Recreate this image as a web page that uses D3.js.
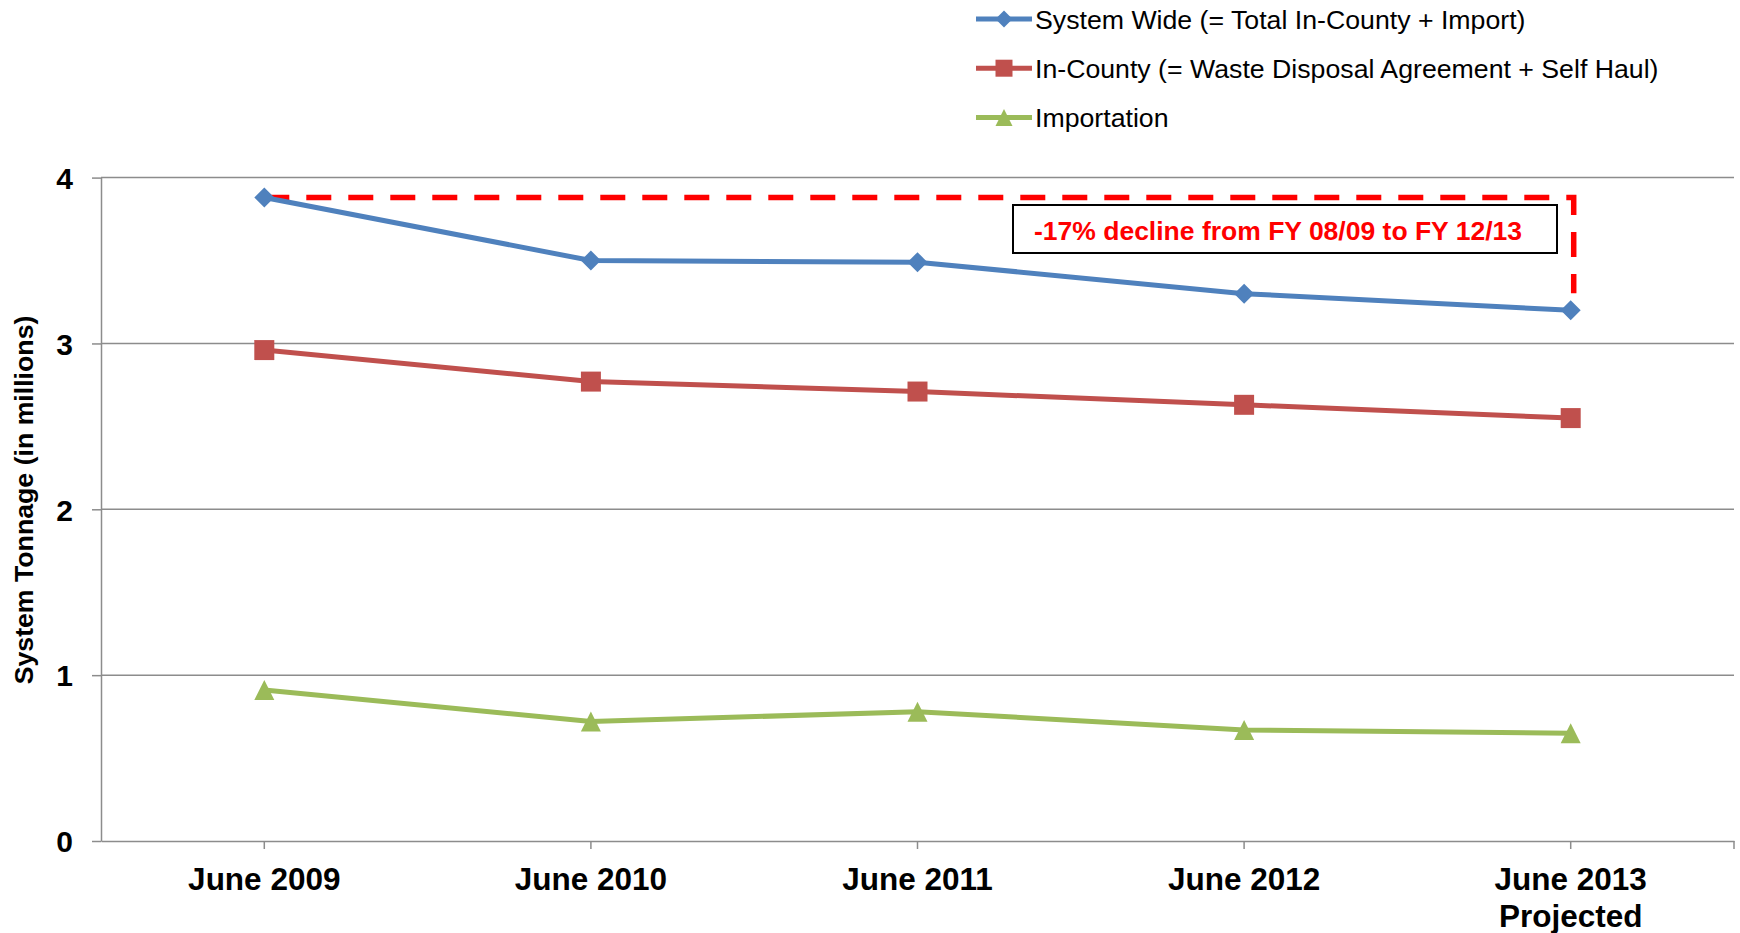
<!DOCTYPE html>
<meta charset="utf-8">
<style>
body { margin: 0; background: #fff; }
svg { display: block; font-family: "Liberation Sans", Arial, sans-serif; }
.grid line { stroke: #8c8c8c; stroke-width: 1.5px; }
.axis path, .axis line { stroke: #8c8c8c; stroke-width: 1.5px; }
.axis text { font-weight: bold; fill: #000; }
</style>
<svg width="1740" height="933"></svg>
<script src="https://cdnjs.cloudflare.com/ajax/libs/d3/7.8.5/d3.min.js"></script>
<script>

var categories = ["June 2009", "June 2010", "June 2011", "June 2012", "June 2013"];
var subLabels = ["", "", "", "", "Projected"];
var systemWide = [3.88, 3.50, 3.49, 3.30, 3.20];
var inCounty = [2.96, 2.77, 2.71, 2.63, 2.55];
var importation = [0.91, 0.72, 0.78, 0.67, 0.65];
var yTicks = [0, 1, 2, 3, 4];
var seriesNames = [
  "System Wide (= Total In-County + Import)",
  "In-County (= Waste Disposal Agreement + Self Haul)",
  "Importation"
];
var seriesColors = ["#4f81bd", "#c0504d", "#9bbb59"];
var seriesShapes = ["diamond", "square", "triangle"];
var yTitle = "System Tonnage (in millions)";
var note = "-17% decline from FY 08/09 to FY 12/13";

var svg = d3.select("svg"),
    plotLeft = 101, plotRight = 1734, plotTop = 177.6, plotBottom = 841;

var x = d3.scaleBand().domain(categories).range([plotLeft, plotRight]),
    y = d3.scaleLinear().domain([0, 4]).range([plotBottom, plotTop]);
function xc(i) { return x(categories[i]) + x.bandwidth() / 2; }

var series = [systemWide, inCounty, importation].map(function(vals, k) {
  return {name: seriesNames[k], color: seriesColors[k], shape: seriesShapes[k], values: vals};
});

function shapePath(shape, s) {
  var h = s / 2;
  if (shape === "diamond") return "M0," + (-h) + "L" + h + ",0L0," + h + "L" + (-h) + ",0Z";
  if (shape === "square") return "M" + (-h) + "," + (-h) + "h" + s + "v" + s + "h" + (-s) + "Z";
  return "M0," + (-h) + "L" + h + "," + h + "L" + (-h) + "," + h + "Z";
}

// gridlines
svg.append("g").attr("class", "grid")
  .selectAll("line").data(yTicks.filter(function(d) { return d > 0; }))
  .enter().append("line")
    .attr("x1", plotLeft).attr("x2", plotRight)
    .attr("y1", function(d) { return y(d); })
    .attr("y2", function(d) { return y(d); });

// y axis
var yAxis = svg.append("g").attr("class", "axis")
    .attr("transform", "translate(" + plotLeft + ",0)")
    .call(d3.axisLeft(y).tickValues(yTicks).tickFormat(d3.format("d"))
      .tickSize(9).tickSizeOuter(0).tickPadding(19));
yAxis.selectAll("text").style("font-size", "30px").attr("dy", "0.36em");

// x axis
var xAxis = svg.append("g").attr("class", "axis")
    .attr("transform", "translate(0," + plotBottom + ")")
    .call(d3.axisBottom(x).tickSize(8).tickSizeOuter(0).tickFormat(""));
xAxis.append("line")
    .attr("x1", plotRight).attr("x2", plotRight).attr("y1", 0).attr("y2", 8);

var xl = svg.append("g").selectAll("text").data(categories).enter().append("text")
    .attr("x", function(d, i) { return xc(i); })
    .attr("y", 890)
    .attr("text-anchor", "middle")
    .style("font-size", "31.5px").style("font-weight", "bold");
xl.append("tspan").text(function(d) { return d; });
xl.append("tspan")
    .attr("x", function(d, i) { return xc(i); })
    .attr("dy", 37)
    .text(function(d, i) { return subLabels[i]; });

// y title
svg.append("text")
    .attr("transform", "translate(33,500) rotate(-90)")
    .attr("text-anchor", "middle")
    .style("font-size", "26.7px").style("font-weight", "bold")
    .text(yTitle);

// decline bracket
var first = systemWide[0], last = systemWide[systemWide.length - 1];
svg.append("path")
    .attr("d", "M" + xc(0) + "," + y(first) + "H" + (xc(4) + 3) + "V" + (y(last) - 17))
    .attr("fill", "none")
    .attr("stroke", "#ff0000")
    .attr("stroke-width", 5.5)
    .attr("stroke-dasharray", "25,17");

svg.append("rect")
    .attr("x", 1013).attr("y", 205).attr("width", 544).attr("height", 48)
    .attr("fill", "#fff").attr("stroke", "#000").attr("stroke-width", 2);
svg.append("text")
    .attr("x", 1278).attr("y", 230).attr("dy", "0.36em")
    .attr("text-anchor", "middle")
    .style("font-size", "26.5px").style("font-weight", "bold").style("fill", "#ff0000")
    .text(note);

// series
var line = d3.line().x(function(d, i) { return xc(i); }).y(function(d) { return y(d); });
var sg = svg.selectAll(".series").data(series).enter().append("g").attr("class", "series");
sg.append("path")
    .attr("d", function(d) { return line(d.values); })
    .attr("fill", "none")
    .attr("stroke", function(d) { return d.color; })
    .attr("stroke-width", 5);
sg.selectAll(".pt").data(function(d) { return d.values.map(function(v) { return {v: v, s: d}; }); })
  .enter().append("path")
    .attr("class", "pt")
    .attr("transform", function(d, i) { return "translate(" + xc(i) + "," + y(d.v) + ")"; })
    .attr("d", function(d) { return shapePath(d.s.shape, 20); })
    .attr("fill", function(d) { return d.s.color; });

// legend
var lg = svg.append("g").selectAll("g").data(series).enter().append("g")
    .attr("transform", function(d, i) { return "translate(976," + (19 + i * 49.2) + ")"; });
lg.append("line")
    .attr("x1", 0).attr("x2", 56)
    .attr("stroke", function(d) { return d.color; })
    .attr("stroke-width", 5);
lg.append("path")
    .attr("transform", "translate(28,0)")
    .attr("d", function(d) { return shapePath(d.shape, 17); })
    .attr("fill", function(d) { return d.color; });
lg.append("text")
    .attr("x", 59).attr("dy", "0.36em")
    .style("font-size", "26.7px")
    .text(function(d) { return d.name; });

</script>
